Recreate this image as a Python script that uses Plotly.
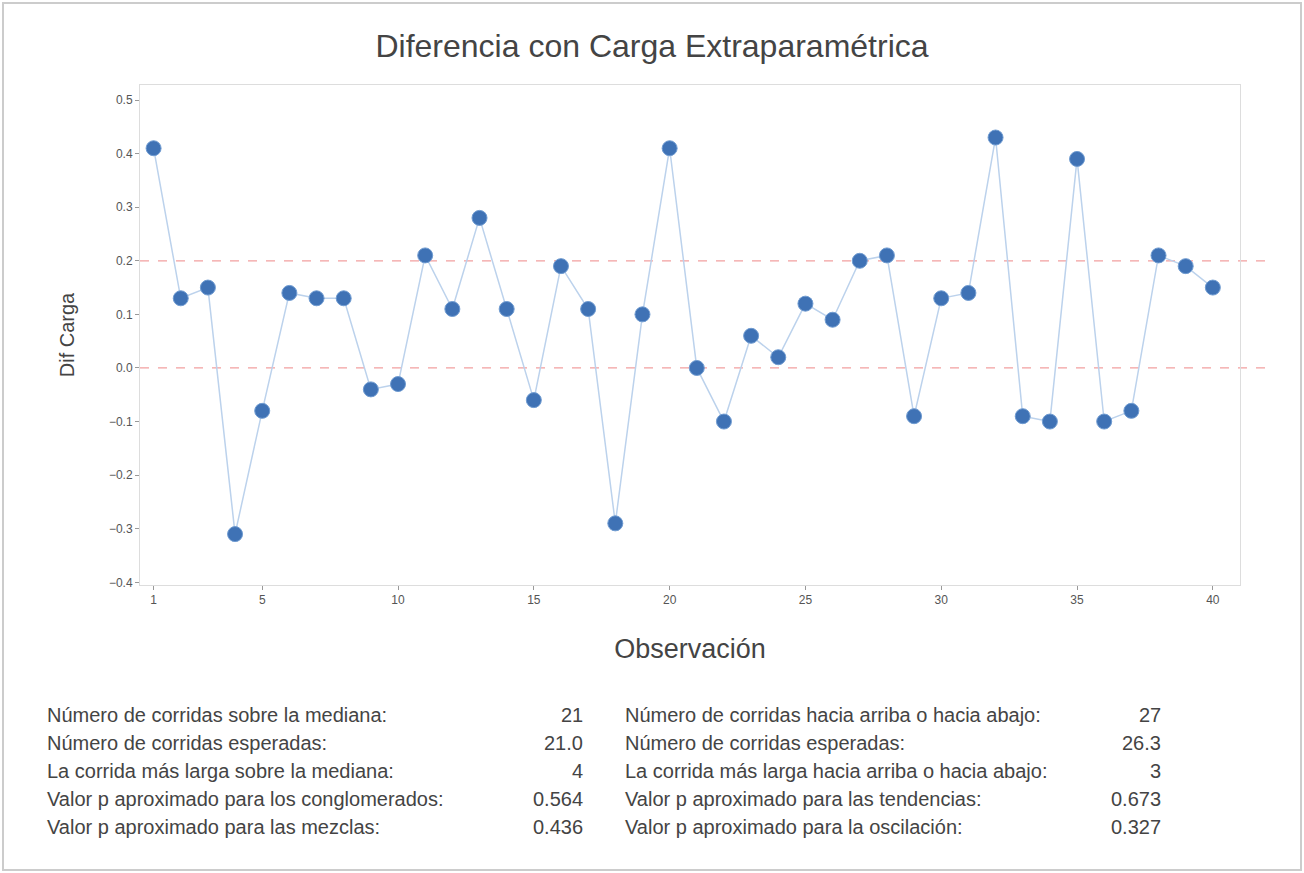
import plotly.graph_objects as go

observacion = list(range(1, 41))
dif_carga = [0.41, 0.13, 0.15, -0.31, -0.08, 0.14, 0.13, 0.13, -0.04, -0.03,
             0.21, 0.11, 0.28, 0.11, -0.06, 0.19, 0.11, -0.29, 0.10, 0.41,
             0.00, -0.10, 0.06, 0.02, 0.12, 0.09, 0.20, 0.21, -0.09, 0.13,
             0.14, 0.43, -0.09, -0.10, 0.39, -0.10, -0.08, 0.21, 0.19, 0.15]
limites = [0.2, 0.0]
x_ticks = [1, 5, 10, 15, 20, 25, 30, 35, 40]
y_ticks = [0.5, 0.4, 0.3, 0.2, 0.1, 0.0, -0.1, -0.2, -0.3, -0.4]

left_labels = ["Número de corridas sobre la mediana:",
               "Número de corridas esperadas:",
               "La corrida más larga sobre la mediana:",
               "Valor p aproximado para los conglomerados:",
               "Valor p aproximado para las mezclas:"]
left_values = ["21", "21.0", "4", "0.564", "0.436"]
right_labels = ["Número de corridas hacia arriba o hacia abajo:",
                "Número de corridas esperadas:",
                "La corrida más larga hacia arriba o hacia abajo:",
                "Valor p aproximado para las tendencias:",
                "Valor p aproximado para la oscilación:"]
right_values = ["27", "26.3", "3", "0.673", "0.327"]

FONT = "Liberation Sans"
W, H = 1304, 873
L, T, R, B = 140, 85, 64, 288
PW, PH = W - L - R, H - T - B


def px(x):
    return (x - L) / PW


def py(y):
    return (H - B - y) / PH


fig = go.Figure()
fig.add_trace(go.Scatter(
    x=observacion, y=dif_carga, mode="lines+markers",
    line=dict(color="#bcd2ec", width=1.5),
    marker=dict(color="#3f72b5", size=15, line=dict(color="#6f9bd1", width=1)),
    showlegend=False))

for v in limites:
    fig.add_shape(type="line", xref="paper", yref="y", x0=0, x1=px(1268), y0=v, y1=v,
                  line=dict(color="#f2a0a0", width=1.2, dash="dash"), layer="below")

fig.update_layout(
    width=W, height=H,
    paper_bgcolor="white", plot_bgcolor="white",
    margin=dict(l=L, r=R, t=T, b=B),
    font=dict(family=FONT, color="#444"),
    title=dict(text="Diferencia con Carga Extraparamétrica", x=0.5, xanchor="center",
               y=1 - 46 / H, yanchor="middle", font=dict(size=32, color="#444", family=FONT)),
    xaxis=dict(range=[0.5, 41.0], tickvals=x_ticks, ticks="outside", ticklen=4,
               tickcolor="#999", showgrid=False, zeroline=False,
               showline=True, linecolor="#ddd", mirror=True,
               tickfont=dict(size=12, color="#555"),
               title=dict(text="Observación", font=dict(size=27, color="#444"), standoff=32)),
    yaxis=dict(range=[-0.405, 0.528], tickvals=y_ticks, tickformat=".1f", ticks="outside",
               ticklen=4, tickcolor="#999", showgrid=False, zeroline=False,
               showline=True, linecolor="#ddd", mirror=True,
               tickfont=dict(size=12, color="#555"),
               title=dict(text="Dif Carga", font=dict(size=20, color="#444"), standoff=28)),
)

rows_y = [715, 743, 771, 799, 827]
for i in range(5):
    yy = py(rows_y[i])
    fig.add_annotation(xref="paper", yref="paper", x=px(45), y=yy,
                       text=left_labels[i], showarrow=False, xanchor="left",
                       yanchor="middle", font=dict(size=20, color="#444"))
    fig.add_annotation(xref="paper", yref="paper", x=px(585), y=yy,
                       text=left_values[i], showarrow=False, xanchor="right",
                       yanchor="middle", font=dict(size=20, color="#444"))
    fig.add_annotation(xref="paper", yref="paper", x=px(623), y=yy,
                       text=right_labels[i], showarrow=False, xanchor="left",
                       yanchor="middle", font=dict(size=20, color="#444"))
    fig.add_annotation(xref="paper", yref="paper", x=px(1163), y=yy,
                       text=right_values[i], showarrow=False, xanchor="right",
                       yanchor="middle", font=dict(size=20, color="#444"))

# outer frame
fig.add_shape(type="rect", xref="paper", yref="paper",
              x0=px(3), x1=px(1301), y0=py(870), y1=py(3),
              line=dict(color="#ccc", width=2), layer="below")

fig.write_html("out.html", config={"displayModeBar": False},
               post_script="document.body.style.margin='0';document.body.style.overflow='hidden';")
